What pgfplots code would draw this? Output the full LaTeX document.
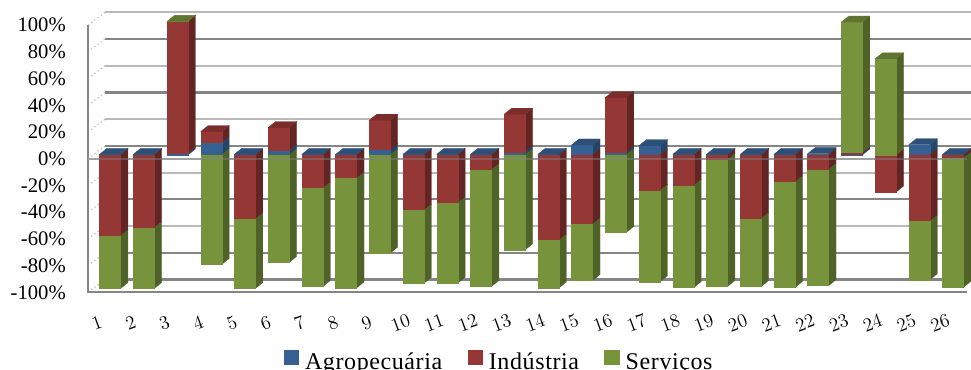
\documentclass[border=0pt]{standalone}
\usepackage{fontspec}
\setmainfont{Liberation Serif}
\usepackage{pgfplots}
\usepackage{pgfplotstable}
\pgfplotsset{compat=1.18}

\definecolor{agrFront}{HTML}{376092}
\definecolor{agrSide}{HTML}{254466}
\definecolor{agrTop}{HTML}{2D5079}
\definecolor{indFront}{HTML}{953735}
\definecolor{indSide}{HTML}{632523}
\definecolor{indTop}{HTML}{7A2D2B}
\definecolor{serFront}{HTML}{77933C}
\definecolor{serSide}{HTML}{4F6228}
\definecolor{serTop}{HTML}{5F7530}
\definecolor{gridLight}{HTML}{B9B9B9}
\definecolor{gridDark}{HTML}{858585}
\definecolor{wallLine}{HTML}{C4C4C4}

% Share of each sector per region, in percent
\pgfplotstableread{
idx agr ind ser
1  0.5 -60.5 -39.5
2  0.5 -54.5 -45.5
3  1.5  98.4   0.1
4  9.5   8.0 -82.0
5  0.5 -48.0 -52.0
6  3.5  17.0 -80.5
7  0.5 -25.0 -73.5
8  0.4 -17.6 -82.0
9  4.0  22.0 -73.4
10 0.5 -41.4 -54.6
11 0.5 -36.0 -60.0
12 0.5 -11.0 -87.5
13 2.5  28.0 -71.0
14 0.5 -64.0 -35.6
15 7.5 -52.0 -42.0
16 2.0  41.0 -58.0
17 7.0 -26.7 -68.3
18 0.5 -23.0 -76.3
19 0.5  -3.5 -95.0
20 0.5 -47.7 -50.8
21 0.5 -20.5 -78.8
22 1.0 -11.0 -86.8
23 1.0   1.0  97.5
24 0.0 -27.8  72.0
25 7.7 -49.7 -43.8
26 0.5  -2.5 -96.5
}\sharestable

% Bar geometry in axis units: half width, depth, offset behind the front plane
\def\halfw{0.311}
\def\depx{0.222}
\def\depy{4.5}
\def\planey{2.8}

% One stacked segment: x centre, lower, upper, front colour, side colour
\newcommand{\drawsegment}[5]{%
  \pgfmathsetmacro{\xl}{#1-\halfw}%
  \pgfmathsetmacro{\xr}{#1+\halfw}%
  \pgfmathsetmacro{\xb}{\xr+\depx}%
  \pgfmathsetmacro{\yl}{#2+\planey}%
  \pgfmathsetmacro{\yh}{#3+\planey}%
  \pgfmathsetmacro{\ylb}{\yl+\depy}%
  \pgfmathsetmacro{\yhb}{\yh+\depy}%
  \edef\doplot{%
    \noexpand\addplot[forget plot, draw=#5, line width=0.2pt, fill=#5]
      coordinates {(\xr,\yl) (\xb,\ylb) (\xb,\yhb) (\xr,\yh)} -- cycle;
    \noexpand\addplot[forget plot, draw=#4, line width=0.2pt, fill=#4]
      coordinates {(\xl,\yl) (\xr,\yl) (\xr,\yh) (\xl,\yh)} -- cycle;
  }\doplot
}

% One sector of a bar, stacked away from zero on its own side
\newcommand{\stackvalue}[3]{%
  \ifdim #1pt>0pt
    \pgfmathsetmacro{\newpos}{\posstack+#1}%
    \drawsegment{\barx}{\posstack}{\newpos}{#2Front}{#2Side}%
    \global\let\posstack\newpos
    \gdef\topcolor{#2Top}%
  \else
    \ifdim #1pt<0pt
      \pgfmathsetmacro{\newneg}{\negstack+#1}%
      \drawsegment{\barx}{\newneg}{\negstack}{#2Front}{#2Side}%
      \global\let\negstack\newneg
    \fi
  \fi
}

% A back grid line and its slanted continuation on the side wall
\newcommand{\gridline}[2]{%
  \pgfmathsetmacro{\yb}{#1+9.6}%
  \edef\doplot{%
    \noexpand\addplot[forget plot, draw=#2, line width=1.6pt]
      coordinates {(0.852,\yb) (26.534,\yb)};
    \noexpand\addplot[forget plot, draw=wallLine, line width=1pt, dotted]
      coordinates {(0.3476,#1) (0.852,\yb)};
  }\doplot
}

\newcommand{\legendswatch}[1]{%
  \addlegendimage{legend image code/.code={%
    \path[draw=none, fill=none] (14pt,0pt);
    \fill[#1, draw=none] (0pt,-2.2pt) rectangle (11.4pt,9.2pt);}}%
}

\begin{document}
\begin{tikzpicture}
\useasboundingbox (0,0) rectangle (728.25pt,276.75pt);
\begin{axis}[
  at={(66pt,57.525pt)}, anchor=south west,
  scale only axis, width=662.25pt, height=208.7pt,
  xmin=0.3476, xmax=26.534, ymin=-100, ymax=108.3,
  clip=false,
  axis line style={draw=none},
  major tick length=0pt,
  xtick={1,...,26},
  ytick={-100,-80,...,100},
  yticklabels={-100\%,-80\%,-60\%,-40\%,-20\%,0\%,20\%,40\%,60\%,80\%,100\%},
  yticklabel style={font=\fontsize{15.5}{16}\selectfont, anchor=east, inner sep=0pt, xshift=-16.5pt},
  xticklabel style={font=\fontsize{15.5}{16}\selectfont, anchor=center, inner sep=0pt, xshift=-9.75pt, yshift=-23pt, rotate=20},
  legend style={
    at={(0.466,-0.252)}, anchor=center,
    draw=none, fill=none, inner sep=0pt, legend columns=3,
    font=\fontsize{18}{18}\selectfont\addfontfeature{LetterSpace=2.5},
    /tikz/every even column/.append style={column sep=17pt},
  },
  legend cell align=left,
]
\legendswatch{agrFront}\addlegendentry{Agropecuária}
\legendswatch{indFront}\addlegendentry{Indústria}
\legendswatch{serFront}\addlegendentry{Serviços}

% Back wall grid, alternating as printed
\gridline{100}{gridLight}
\gridline{80}{gridDark}
\gridline{60}{gridLight}
\gridline{40}{gridDark}
\gridline{20}{gridLight}
\gridline{0}{gridDark}
\gridline{-20}{gridLight}
\gridline{-40}{gridDark}
\gridline{-60}{gridLight}
\gridline{-80}{gridDark}
\gridline{-100}{gridDark}

% Front edges of the floor and the value axis
\addplot[forget plot, draw=gridDark, line width=1.6pt] coordinates {(0.3476,100) (0.3476,-100) (26.415,-100)};
\addplot[forget plot, draw=gridLight, line width=1.6pt] coordinates {(0.3476,0) (26.415,0)};

% Stacked three-dimensional columns
\pgfplotsinvokeforeach{0,...,25}{%
  \pgfplotstablegetelem{#1}{idx}\of\sharestable \let\barx\pgfplotsretval
  \pgfplotstablegetelem{#1}{agr}\of\sharestable \let\valagr\pgfplotsretval
  \pgfplotstablegetelem{#1}{ind}\of\sharestable \let\valind\pgfplotsretval
  \pgfplotstablegetelem{#1}{ser}\of\sharestable \let\valser\pgfplotsretval
  \gdef\posstack{0}\gdef\negstack{0}\gdef\topcolor{agrTop}%
  \stackvalue{\valagr}{agr}{}%
  \stackvalue{\valind}{ind}{}%
  \stackvalue{\valser}{ser}{}%
  \pgfmathsetmacro{\xl}{\barx-\halfw}%
  \pgfmathsetmacro{\xr}{\barx+\halfw}%
  \pgfmathsetmacro{\xlb}{\xl+\depx}%
  \pgfmathsetmacro{\xrb}{\xr+\depx}%
  \pgfmathsetmacro{\yt}{\posstack+\planey}%
  \pgfmathsetmacro{\ytb}{\yt+\depy}%
  \edef\doplot{%
    \noexpand\addplot[forget plot, draw=\topcolor, line width=0.2pt, fill=\topcolor]
      coordinates {(\xl,\yt) (\xr,\yt) (\xrb,\ytb) (\xlb,\ytb)} -- cycle;
  }\doplot
}

% Zero line showing faintly across the columns
\addplot[forget plot, draw=gridDark, opacity=0.45, line width=1.5pt] coordinates {(0.3476,0) (26.415,0)};
\end{axis}
\end{tikzpicture}
\end{document}
